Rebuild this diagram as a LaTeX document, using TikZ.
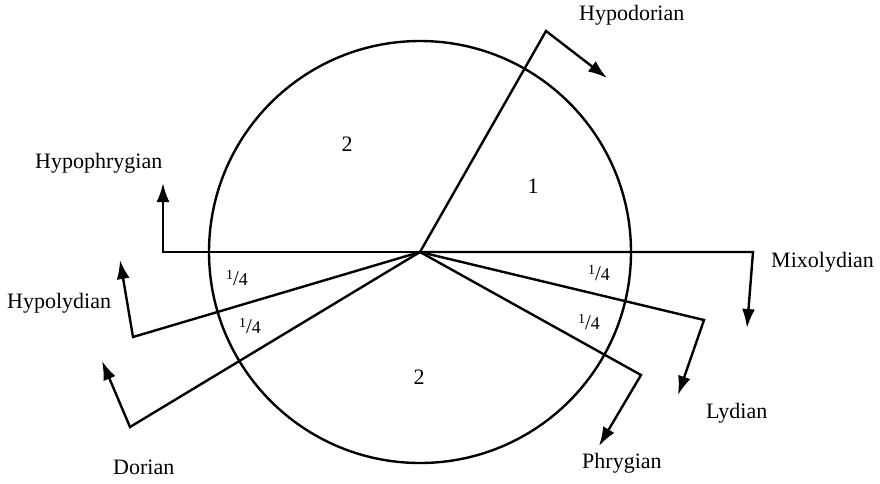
\documentclass[tikz,border=0pt]{standalone}
\usepackage{fontspec}
\setmainfont{Liberation Serif}
\usetikzlibrary{arrows.meta}
\newcommand{\qtrfrac}{{\fontsize{14}{14}\selectfont\raisebox{6pt}{1}}{\fontsize{21}{21}\selectfont/}{\fontsize{18}{18}\selectfont 4}}
\begin{document}
\begin{tikzpicture}[x=1pt,y=-1pt,
  ray/.style={line width=2.4pt, line join=miter, -{Latex[length=19pt,width=13pt]}},
  lbl/.style={font=\fontsize{22}{26}\selectfont, inner sep=0pt, anchor=base west},
  num/.style={font=\fontsize{22}{26}\selectfont, inner sep=0pt},
  frac/.style={inner sep=0pt}]
\useasboundingbox (0,0) rectangle (880,483);
\coordinate (c) at (420,252);
\draw[line width=2.4pt] (c) circle[radius=211];
% corners and tips
\coordinate (hdA) at (546,31);  \coordinate (hdB) at (607,78);
\coordinate (hpA) at (163,252); \coordinate (hpB) at (163,183);
\coordinate (mxA) at (753,252); \coordinate (mxB) at (747,328);
\coordinate (lyA) at (704,320); \coordinate (lyB) at (678,395);
\coordinate (phA) at (641,375); \coordinate (phB) at (599,446);
\coordinate (hlA) at (133,337); \coordinate (hlB) at (120,260);
\coordinate (doA) at (130,427); \coordinate (doB) at (102,361);
\draw[ray] (c) -- (hdA) -- (hdB);
\draw[ray] (c) -- (hpA) -- (hpB);
\draw[ray] (c) -- (mxA) -- (mxB);
\draw[ray] (c) -- (lyA) -- (lyB);
\draw[ray] (c) -- (phA) -- (phB);
\draw[ray] (c) -- (hlA) -- (hlB);
\draw[ray] (c) -- (doA) -- (doB);
% labels
\node[lbl] (lhd) at (579,20) {Hypodorian};
\node[lbl] (lhp) at (35,168) {Hypophrygian};
\node[lbl] (lmx) at (771,267) {Mixolydian};
\node[lbl] (lhl) at (7,308) {Hypolydian};
\node[lbl] (ldo) at (113,474) {Dorian};
\node[lbl] (lly) at (706,418) {Lydian};
\node[lbl] (lph) at (582,468) {Phrygian};
% numbers
\node[num] (n1) at (347,144) {2};
\node[num] (n2) at (533,186) {1};
\node[num] (n3) at (419,377) {2};
\node[frac] (f1) at (237,278) {\qtrfrac};
\node[frac] (f2) at (250,326) {\qtrfrac};
\node[frac] (f3) at (599,273) {\qtrfrac};
\node[frac] (f4) at (589,322) {\qtrfrac};
\end{tikzpicture}
\end{document}
